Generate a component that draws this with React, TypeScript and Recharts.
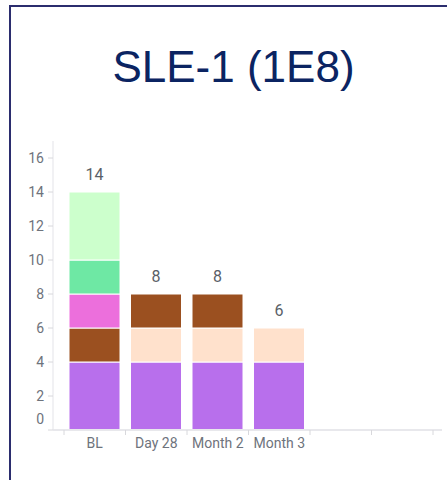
import { BarChart, Bar, XAxis, YAxis, LabelList } from "recharts";

const categories = ["BL", "Day 28", "Month 2", "Month 3", "", ""];
const purple = [4, 4, 4, 4, 0, 0];
const peach = [0, 2, 2, 2, 0, 0];
const brown = [2, 2, 2, 0, 0, 0];
const pink = [2, 0, 0, 0, 0, 0];
const green = [2, 0, 0, 0, 0, 0];
const lightGreen = [4, 0, 0, 0, 0, 0];
const yTicks = [0, 2, 4, 6, 8, 10, 12, 14, 16];

const series = [
  { key: "purple", values: purple, color: "#b86fec" },
  { key: "peach", values: peach, color: "#ffe1cc" },
  { key: "brown", values: brown, color: "#9b5020" },
  { key: "pink", values: pink, color: "#ec6fdc" },
  { key: "green", values: green, color: "#6ee8a4" },
  { key: "lightGreen", values: lightGreen, color: "#ccffcc" },
];

const data = categories.map((name, i) => {
  const row: Record<string, string | number> = { name, idx: i };
  series.forEach((s) => (row[s.key] = s.values[i]));
  return row;
});

const totals = categories.map((_, i) =>
  series.reduce((sum, s) => sum + s.values[i], 0)
);

// which series is the top segment of each stack
const topSeries = categories.map((_, i) => {
  let top = -1;
  series.forEach((s, k) => {
    if (s.values[i] > 0) top = k;
  });
  return top;
});

const labelColor = "#6e737c";
const BAND = 61.5;

function XTick(props: any) {
  const { x, y, payload, index } = props;
  return (
    <g>
      <line x1={x - BAND / 2} x2={x - BAND / 2} y1={430} y2={435} stroke="#d8d8dc" />
      {index === categories.length - 1 && (
        <line x1={x + BAND / 2} x2={x + BAND / 2} y1={430} y2={435} stroke="#d8d8dc" />
      )}
      <text
        x={x}
        y={y}
        dy={10}
        textAnchor="middle"
        fill={labelColor}
        fontSize={14}
        fontFamily="Roboto"
      >
        {payload.value}
      </text>
    </g>
  );
}

function YTick(props: any) {
  const { x, y, payload } = props;
  // the zero label sits lifted off the axis
  const shift = payload.value === 0 ? -11 : 0;
  return (
    <text
      x={x}
      y={y + shift}
      dy="0.355em"
      textAnchor="end"
      fill={labelColor}
      fontSize={14}
      fontFamily="Roboto"
    >
      {payload.value}
    </text>
  );
}

function makeTotalLabel(seriesIndex: number) {
  return function TotalLabel(props: any) {
    const { x, y, width, value } = props;
    // value carries the category index (see valueAccessor)
    const i = typeof value === "number" ? value : -1;
    if (i < 0 || topSeries[i] !== seriesIndex) return null;
    return (
      <text
        x={x + width / 2}
        y={y - 12}
        textAnchor="middle"
        fill="#5a5f68"
        fontSize={16}
        fontFamily="Roboto"
      >
        {totals[i]}
      </text>
    );
  };
}

export default function App() {
  return (
    <div
      style={{
        position: "absolute",
        left: 0,
        top: 0,
        width: 447,
        height: 480,
        background: "#fff",
        overflow: "hidden",
      }}
    >
      <div
        style={{
          position: "absolute",
          left: 9,
          top: 5,
          width: 460,
          height: 500,
          borderLeft: "2px solid #2b2d6e",
          borderTop: "2px solid #2b2d6e",
        }}
      />
      <div
        style={{
          position: "absolute",
          left: 10,
          top: 45,
          width: 447,
          textAlign: "center",
          fontFamily: "'Liberation Sans', Arial, sans-serif",
          fontSize: 44,
          lineHeight: "44px",
          color: "#0b2462",
        }}
      >
        SLE-1 (1E8)
      </div>
      <div style={{ position: "absolute", left: 0, top: 0 }}>
        <BarChart
          width={447}
          height={480}
          data={data}
          margin={{ top: 141, right: 5, bottom: 0, left: 0 }}
          barSize={51}
        >
          <XAxis
            dataKey="name"
            height={50}
            padding={{ left: 11, right: 9 }}
            axisLine={{ stroke: "#e8e8ec", strokeWidth: 2 }}
            tickLine={false}
            tick={<XTick />}
            interval={0}
          />
          <YAxis
            width={53}
            domain={[0, 17]}
            ticks={yTicks}
            allowDataOverflow
            axisLine={{ stroke: "#e3e3e8" }}
            tickLine={{ stroke: "#d8d8dc" }}
            tickSize={5}
            tickMargin={4}
            tick={<YTick />}
            interval={0}
          />
          {series.map((s, k) => {
            const Label = makeTotalLabel(k);
            return (
              <Bar
                key={s.key}
                dataKey={s.key}
                stackId="a"
                fill={s.color}
                stroke="#ffffff"
                strokeWidth={1}
                isAnimationActive={false}
              >
                <LabelList
                  valueAccessor={(entry: any) => entry?.payload?.idx}
                  content={<Label />}
                />
              </Bar>
            );
          })}
        </BarChart>
      </div>
    </div>
  );
}
